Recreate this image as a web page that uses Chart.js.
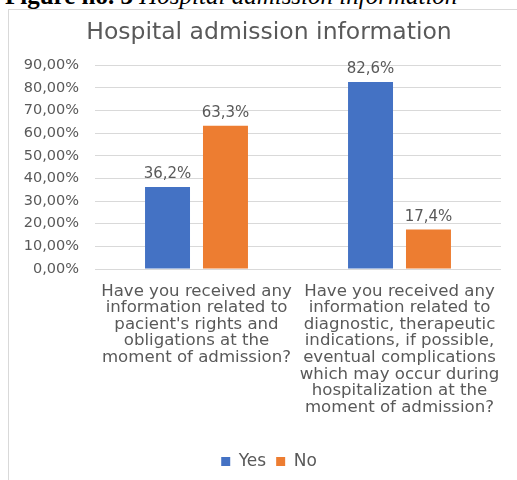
<!DOCTYPE html>
<html lang="en">
<head>
    <meta charset="UTF-8">
    <meta name="viewport" content="width=device-width, initial-scale=1.0">
    <title>Hospital admission information</title>
    <script src="https://cdnjs.cloudflare.com/ajax/libs/chart.js/4.4.1/chart.umd.min.js"></script>
    <style>
        html, body {
            margin: 0;
            padding: 0;
            width: 517px;
            height: 480px;
            overflow: hidden;
            background: #fff;
        }

        .caption {
            position: absolute;
            left: 5px;
            top: -17px;
            font-family: 'Liberation Serif', serif;
            font-size: 25px;
            line-height: 25px;
            white-space: nowrap;
            color: #000;
        }

        .caption i {
            font-weight: normal;
        }

        .chart-box {
            position: absolute;
            left: 8px;
            top: 9px;
            width: 520px;
            height: 480px;
            border: 1px solid #d9d9d9;
            background: #fff;
        }

        .canvas-container {
            position: relative;
            width: 520px;
            height: 470px;
        }
    </style>
</head>
<body>
    <div class="caption"><b>Figure no. 3</b> <i>Hospital admission information</i></div>
    <div class="chart-box">
        <div class="canvas-container">
            <canvas id="admissionChart"></canvas>
        </div>
    </div>

    <script>
        const questions = [
            ['Have you received any', 'information related to', "pacient's rights and", 'obligations at the', 'moment of admission?'],
            ['Have you received any', 'information related to', 'diagnostic, therapeutic', 'indications, if possible,', 'eventual complications', 'which may occur during', 'hospitalization at the', 'moment of admission?']
        ];
        const yesValues = [36.2, 82.6];
        const noValues = [63.3, 17.4];
        const yTicks = [0, 10, 20, 30, 40, 50, 60, 70, 80, 90];

        const textColor = '#595959';
        const fontFamily = "'DejaVu Sans', sans-serif";

        // writes "36,2%" style labels above each bar
        const valueLabels = {
            id: 'valueLabels',
            afterDatasetsDraw(chart) {
                const ctx = chart.ctx;
                ctx.save();
                ctx.font = '15px ' + fontFamily;
                ctx.fillStyle = textColor;
                ctx.textAlign = 'center';
                ctx.textBaseline = 'bottom';
                chart.data.datasets.forEach((ds, i) => {
                    chart.getDatasetMeta(i).data.forEach((bar, j) => {
                        const txt = ds.data[j].toFixed(1).replace('.', ',') + '%';
                        ctx.fillText(txt, bar.x, bar.y - 5);
                    });
                });
                ctx.restore();
            }
        };

        const ctx = document.getElementById('admissionChart').getContext('2d');
        new Chart(ctx, {
            type: 'bar',
            data: {
                labels: questions,
                datasets: [{
                    label: 'Yes',
                    data: yesValues,
                    backgroundColor: '#4472c4',
                    barPercentage: 0.776,
                    categoryPercentage: 0.571
                }, {
                    label: 'No',
                    data: noValues,
                    backgroundColor: '#ed7d31',
                    barPercentage: 0.776,
                    categoryPercentage: 0.571
                }]
            },
            options: {
                responsive: true,
                maintainAspectRatio: false,
                animation: false,
                layout: {
                    padding: { left: 0, right: 0, top: 0, bottom: 0 }
                },
                plugins: {
                    title: {
                        display: true,
                        text: 'Hospital admission information',
                        color: textColor,
                        font: { family: fontFamily, size: 23.5, weight: 'normal', lineHeight: 1.2 },
                        padding: { top: 9, bottom: 18 }
                    },
                    legend: {
                        position: 'bottom',
                        labels: {
                            color: textColor,
                            font: { family: fontFamily, size: 17 },
                            boxWidth: 9,
                            boxHeight: 9,
                            padding: 10
                        }
                    },
                    tooltip: { enabled: false }
                },
                scales: {
                    y: {
                        min: 0,
                        max: 90,
                        afterFit: scale => { scale.width = 86; },
                        afterBuildTicks: scale => {
                            scale.ticks = yTicks.map(v => ({ value: v }));
                        },
                        border: { display: false },
                        grid: {
                            color: '#d9d9d9',
                            drawTicks: false
                        },
                        ticks: {
                            color: textColor,
                            padding: 16,
                            font: { family: fontFamily, size: 14.5 },
                            callback: value => value.toFixed(2).replace('.', ',') + '%'
                        }
                    },
                    // empty strip on the right so the plot ends short of the frame
                    yRight: {
                        position: 'right',
                        afterFit: scale => { scale.width = 28; },
                        border: { display: false },
                        grid: { display: false, drawTicks: false },
                        ticks: { display: false }
                    },
                    x: {
                        afterFit: scale => { scale.height = 174; },
                        border: { display: false },
                        grid: { display: false, drawTicks: false },
                        ticks: {
                            color: textColor,
                            padding: 14,
                            maxRotation: 0,
                            autoSkip: false,
                            font: { family: fontFamily, size: 16.6, lineHeight: 1.0 }
                        }
                    }
                }
            },
            plugins: [valueLabels]
        });
    </script>
</body>
</html>
